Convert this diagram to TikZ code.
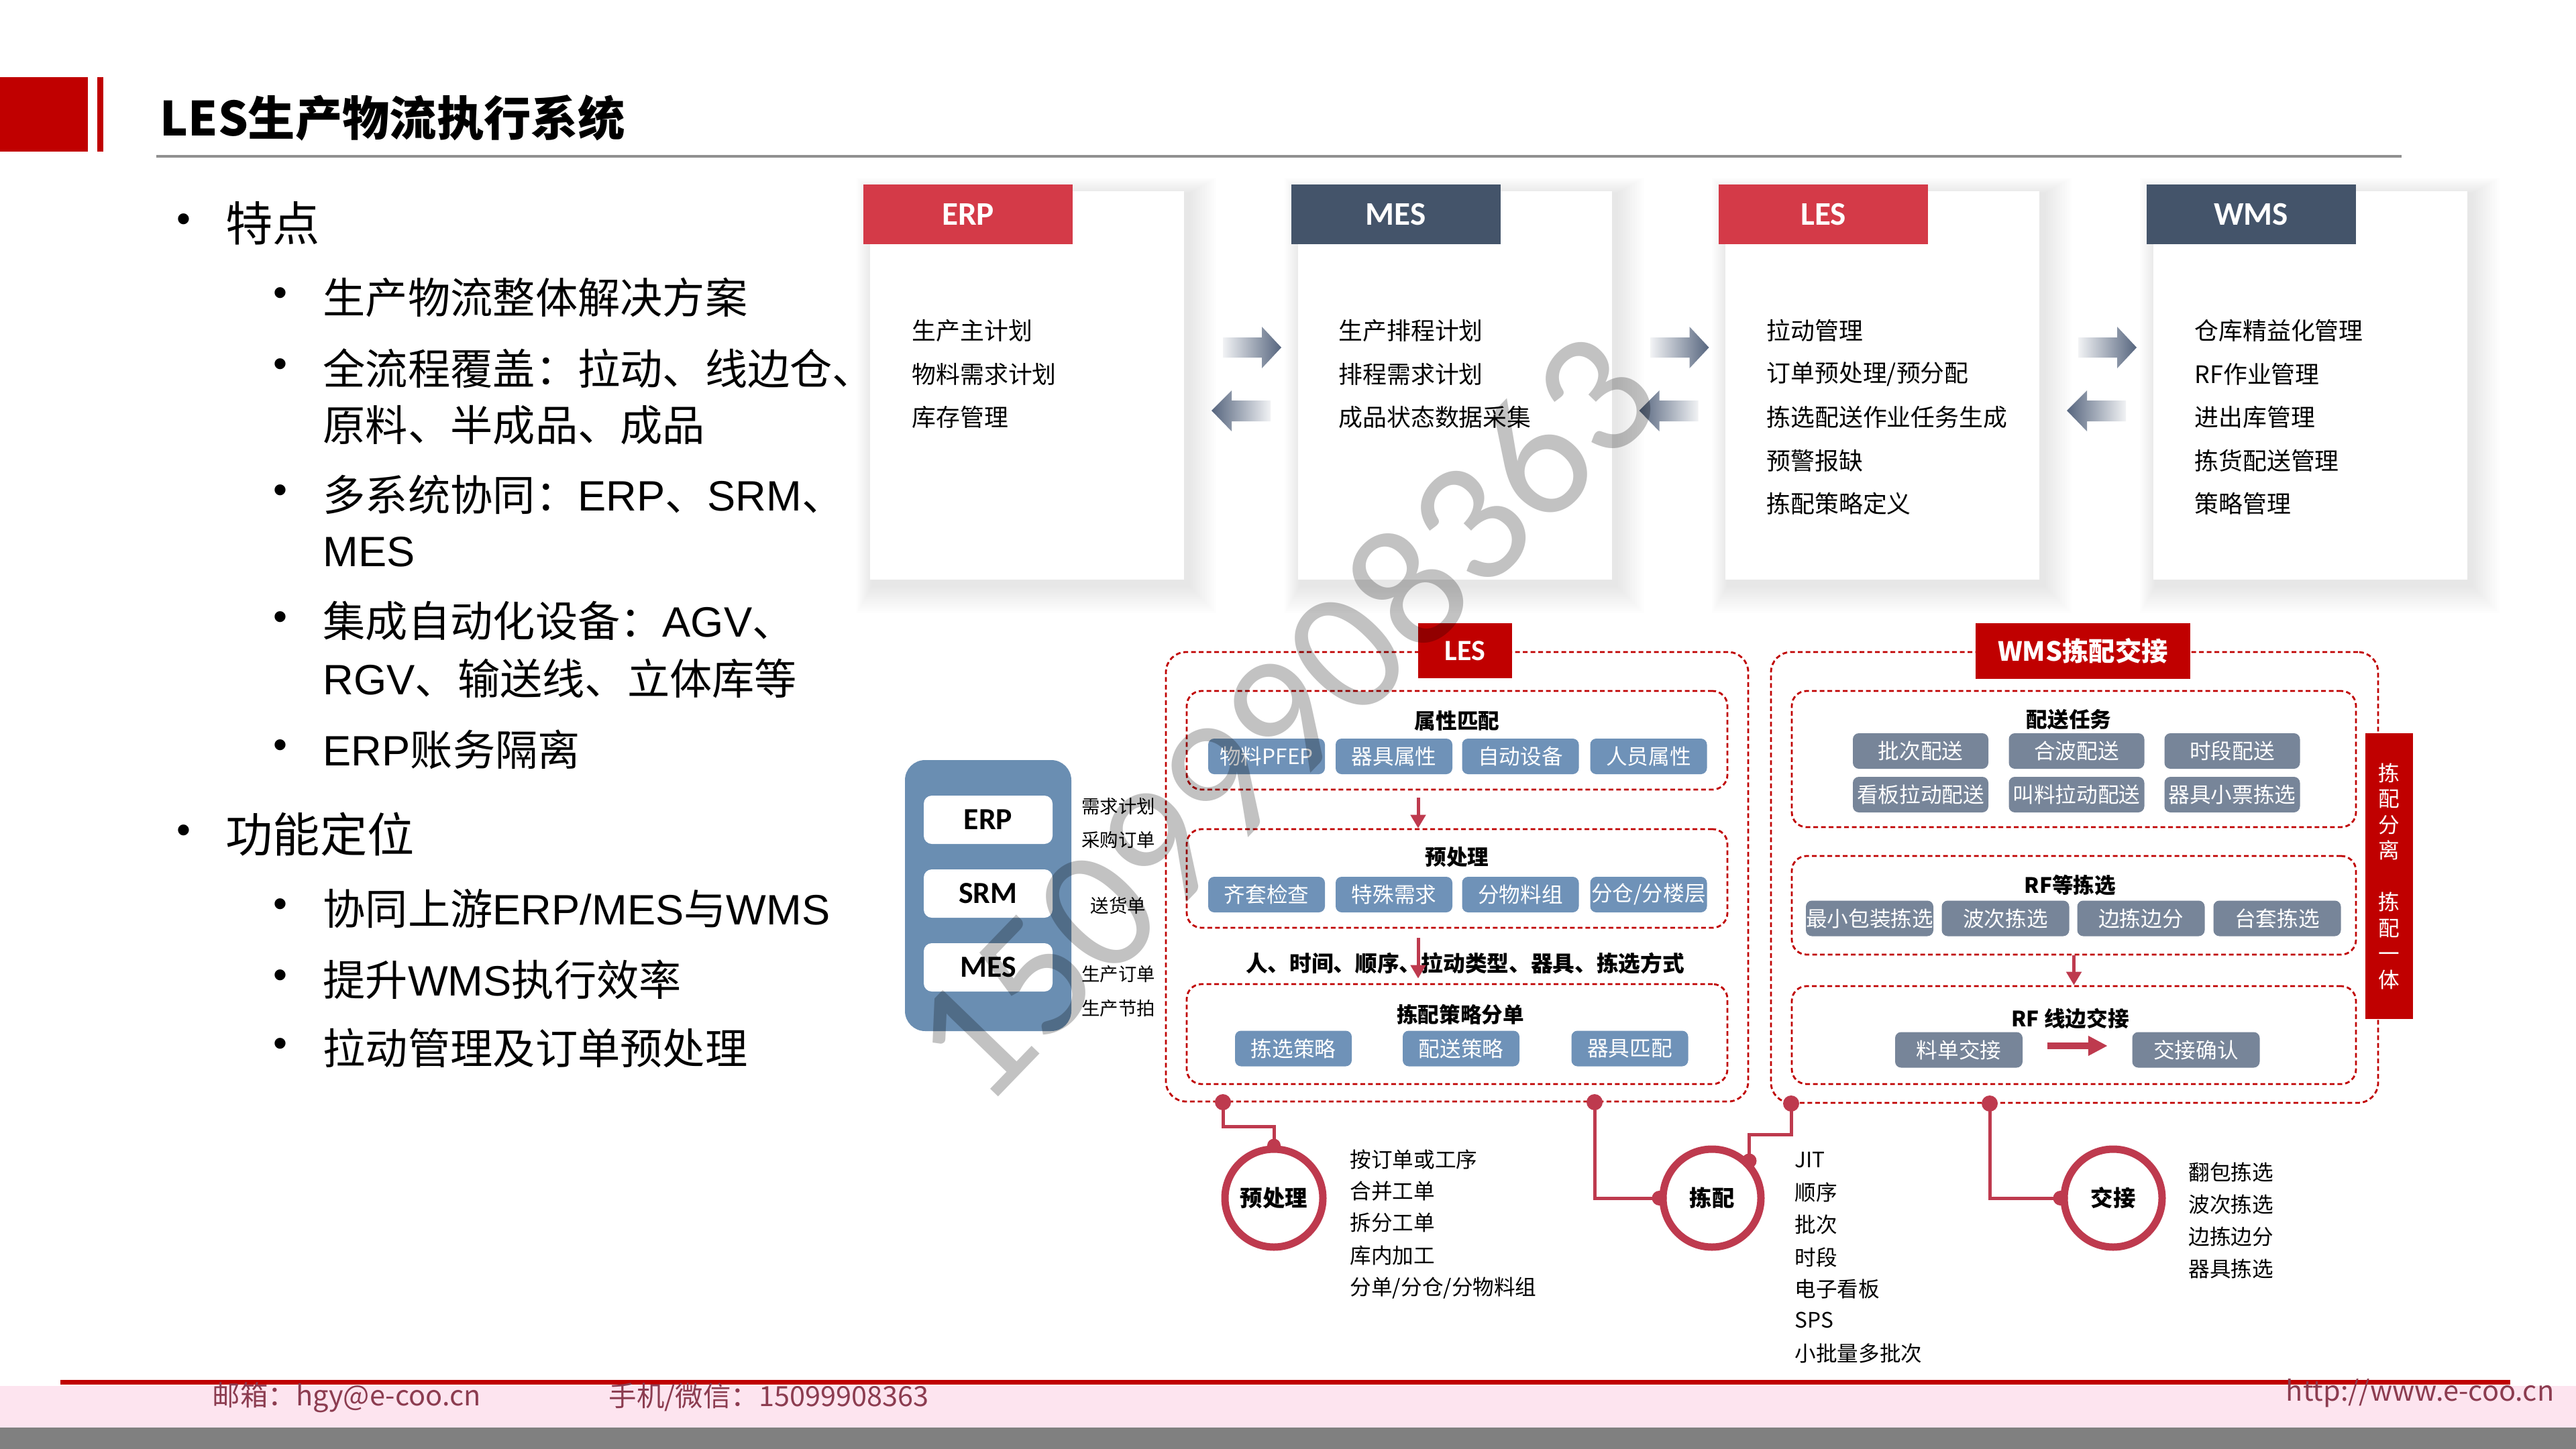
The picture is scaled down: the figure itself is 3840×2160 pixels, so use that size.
\documentclass[tikz,border=0pt]{standalone}
\usepackage{fontspec}
\setmainfont{Noto Sans CJK SC}
\newfontfamily\arialf{Liberation Sans}
\newfontfamily\calf{Carlito}
\usetikzlibrary{arrows.meta}
\newcommand{\fsz}[1]{\fontsize{#1pt}{#1pt}\selectfont}
\definecolor{hdred}{HTML}{D43A48}
\definecolor{slate}{HTML}{44546A}
\definecolor{darkred}{HTML}{C00000}
\definecolor{ring}{HTML}{BE3A4E}
\definecolor{panelblue}{HTML}{6A8EB2}
\definecolor{lespill}{HTML}{6F92B8}
\definecolor{wmspill}{HTML}{778599}
\definecolor{arrowdark}{HTML}{56657E}
\definecolor{pinkband}{HTML}{FDE4EF}
\definecolor{foottext}{HTML}{8C3C50}
\definecolor{titlegray}{HTML}{909090}
\definecolor{bandgray}{HTML}{808080}
\begin{document}
\begin{tikzpicture}[x=0.1mm,y=-0.1mm,
  cardtxt/.style={anchor=west, inner sep=0, font=\fsz{10.2}},
  hdrbox/.style={minimum width=31.2mm, minimum height=8.9mm, inner sep=0, text=white, font=\calf\bfseries\fsz{14}},
  dashbox/.style={draw=darkred, line width=0.28mm, dash pattern=on 0.7mm off 0.45mm, rounded corners=2.2mm, inner sep=0},
  outerbox/.style={dashbox, rounded corners=3mm},
  lpill/.style={fill=lespill, text=white, rounded corners=0.9mm, minimum width=17.4mm, minimum height=5.3mm, inner sep=0, font=\fsz{9}},
  wpill/.style={fill=wmspill, text=white, rounded corners=0.9mm, minimum width=20.2mm, minimum height=5.3mm, inner sep=0, font=\fsz{9}},
  boxtitle/.style={font=\bfseries\fsz{9}, inner sep=0},
  redarrow/.style={draw=ring, line width=0.5mm, -{Triangle[width=2.2mm,length=2mm]}},
  conn/.style={draw=ring, line width=0.5mm},
  ringc/.style={circle, draw=ring, line width=1.1mm, minimum size=14.6mm, inner sep=0, font=\bfseries\fsz{9.5}, fill=white},
  dotn/.style={circle, fill=ring, minimum size=2.4mm, inner sep=0},
  listtxt/.style={anchor=west, inner sep=0, font=\fsz{9}},
  sidetxt/.style={inner sep=0, font=\fsz{7.8}},
  bulA/.style={anchor=west, inner sep=0, font=\fsz{20}},
  bulB/.style={anchor=west, inner sep=0, font=\fsz{18}},
  bulmark/.style={inner sep=0, font=\arialf\fsz{17}},
  foot/.style={inner sep=0, text=foottext, font=\fsz{11.8}},
  wbox/.style={fill=white, rounded corners=1.2mm, minimum width=19.2mm, minimum height=7.2mm, inner sep=0, font=\calf\bfseries\fsz{13}}
]
\useasboundingbox (0,0) rectangle (3840,2160);
\fill[white] (0,0) rectangle (3840,2160);

% ---------- header ----------
\fill[darkred] (0,115) rectangle (131,226);
\fill[darkred] (145,115) rectangle (154,226);
\node[anchor=west, inner sep=0, font=\bfseries\fsz{20}] (title) at (238,176) {LES生产物流执行系统};
\draw[titlegray, line width=0.4mm] (233,233) -- (3580,233);

% ---------- left bullets ----------
\node[bulmark] (bm1) at (274,333) {•};
\node[bulA] (b1) at (336,333) {特点};
\node[bulmark] (bs1) at (418,443) {•};
\node[bulB] (t1) at (481,443) {生产物流整体解决方案};
\node[bulmark] (bs2) at (418,549) {•};
\node[bulB] (t2) at (481,549) {全流程覆盖：拉动、线边仓、};
\node[bulB] (t2b) at (481,634) {原料、半成品、成品};
\node[bulmark] (bs3) at (418,737) {•};
\node[bulB] (t3) at (481,737) {多系统协同：{\arialf ERP}、{\arialf SRM}、};
\node[bulB] (t3b) at (481,823) {\arialf MES};
\node[bulmark] (bs4) at (418,926) {•};
\node[bulB] (t4) at (481,926) {集成自动化设备：{\arialf AGV}、};
\node[bulB] (t4b) at (481,1011) {{\arialf RGV}、输送线、立体库等};
\node[bulmark] (bs5) at (418,1117) {•};
\node[bulB] (t5) at (481,1117) {{\arialf ERP}账务隔离};
\node[bulmark] (bm2) at (274,1244) {•};
\node[bulA] (b2) at (336,1244) {功能定位};
\node[bulmark] (bs6) at (418,1354) {•};
\node[bulB] (t6) at (481,1354) {协同上游{\arialf ERP/MES}与{\arialf WMS}};
\node[bulmark] (bs7) at (418,1460) {•};
\node[bulB] (t7) at (481,1460) {提升{\arialf WMS}执行效率};
\node[bulmark] (bs8) at (418,1562) {•};
\node[bulB] (t8) at (481,1562) {拉动管理及订单预处理};

% ---------- top cards ----------
\foreach \k/\nm/\col in {0/ERP/hdred,1/MES/slate,2/LES/hdred,3/WMS/slate}{
  \foreach \i in {1,...,12}{
    \fill[black,opacity=0.008] ({1297+637.5*\k-\i*2+4},{285-\i*2+4}) rectangle ({1765+637.5*\k+\i*3.5+6},{864+\i*3.5+8});
  }
  \fill[white] ({1297+637.5*\k},285) rectangle ({1765+637.5*\k},864);
  \node[hdrbox, fill=\col] (hdr\k) at ({1443+637.5*\k},319.5) {\nm};
}
\node[cardtxt] (e1) at (1359,493) {生产主计划};
\node[cardtxt] (e2) at (1359,557.5) {物料需求计划};
\node[cardtxt] (e3) at (1359,622) {库存管理};
\node[cardtxt] (m1) at (1995,493) {生产排程计划};
\node[cardtxt] (m2) at (1995,557.5) {排程需求计划};
\node[cardtxt] (m3) at (1995,622) {成品状态数据采集};
\node[cardtxt] (l1) at (2633,493) {拉动管理};
\node[cardtxt] (l2) at (2633,557.5) {订单预处理/预分配};
\node[cardtxt] (l3) at (2633,622) {拣选配送作业任务生成};
\node[cardtxt] (l4) at (2633,686.5) {预警报缺};
\node[cardtxt] (l5) at (2633,751) {拣配策略定义};
\node[cardtxt] (w1) at (3271,493) {仓库精益化管理};
\node[cardtxt] (w2) at (3271,557.5) {RF作业管理};
\node[cardtxt] (w3) at (3271,622) {进出库管理};
\node[cardtxt] (w4) at (3271,686.5) {拣货配送管理};
\node[cardtxt] (w5) at (3271,751) {策略管理};

% gradient arrows between cards
\foreach \k in {0,1,2}{
  \shade[left color=arrowdark!8, right color=arrowdark]
    ({1823+637.5*\k},503) -- ({1881+637.5*\k},503) -- ({1881+637.5*\k},487) -- ({1910+637.5*\k},518)
    -- ({1881+637.5*\k},549) -- ({1881+637.5*\k},533) -- ({1823+637.5*\k},533) -- cycle;
  \shade[left color=arrowdark, right color=arrowdark!8]
    ({1894+637.5*\k},597) -- ({1836+637.5*\k},597) -- ({1836+637.5*\k},582) -- ({1806+637.5*\k},612)
    -- ({1836+637.5*\k},643) -- ({1836+637.5*\k},628) -- ({1894+637.5*\k},628) -- cycle;
}

% ---------- left source panel ----------
\node[fill=panelblue, rounded corners=3mm, minimum width=24.8mm, minimum height=40.4mm, inner sep=0] (panel) at (1473,1335) {};
\node[wbox] (perp) at (1473,1222) {ERP};
\node[wbox] (psrm) at (1473,1332) {SRM};
\node[wbox] (pmes) at (1473,1442) {MES};
\node[sidetxt] (s1) at (1667,1202) {需求计划};
\node[sidetxt] (s2) at (1667,1252) {采购订单};
\node[sidetxt] (s3) at (1667,1350) {送货单};
\node[sidetxt] (s4) at (1667,1452) {生产订单};
\node[sidetxt] (s5) at (1667,1503) {生产节拍};

% ---------- LES block ----------
\node[outerbox, minimum width=86.8mm, minimum height=67mm] (lesbox) at (2172,1307) {};
\node[dashbox, minimum width=80.6mm, minimum height=14.7mm] (l1box) at (2172,1103.5) {};
\node[dashbox, minimum width=80.6mm, minimum height=14.7mm] (l2box) at (2172,1309.5) {};
\node[dashbox, minimum width=80.6mm, minimum height=14.9mm] (l3box) at (2172,1541.5) {};
\node[fill=darkred, text=white, minimum width=14mm, minimum height=8.2mm, inner sep=0, font=\calf\bfseries\fsz{12.5}] (leslabel) at (2184,970) {LES};

\node[boxtitle] (lt1) at (2172,1074) {属性匹配};
\node[lpill] (lp11) at (1888,1127.5) {物料PFEP};
\node[lpill] (lp12) at (2078,1127.5) {器具属性};
\node[lpill] (lp13) at (2266.5,1127.5) {自动设备};
\node[lpill] (lp14) at (2457.5,1127.5) {人员属性};

\node[boxtitle] (lt2) at (2172,1278) {预处理};
\node[lpill] (lp21) at (1888,1333.5) {齐套检查};
\node[lpill] (lp22) at (2078,1333.5) {特殊需求};
\node[lpill] (lp23) at (2266.5,1333.5) {分物料组};
\node[lpill] (lp24) at (2457.5,1333.5) {分仓/分楼层};

\node[boxtitle, font=\bfseries\fsz{9.3}] (lmid) at (2184,1436) {人、时间、顺序、拉动类型、器具、拣选方式};

\node[boxtitle] (lt3) at (2177,1512) {拣配策略分单};
\node[lpill] (lp31) at (1928,1563) {拣选策略};
\node[lpill] (lp32) at (2178,1563) {配送策略};
\node[lpill] (lp33) at (2429.5,1563) {器具匹配};

\draw[redarrow] ([xshift=-5.8mm,yshift=-1.1mm]l1box.south) -- ([xshift=-5.8mm]l2box.north);
\draw[redarrow] ([xshift=-5.8mm,yshift=-1.4mm]l2box.south) -- ([xshift=-5.8mm,yshift=0.7mm]l3box.north);

% ---------- WMS block ----------
\node[outerbox, minimum width=90.5mm, minimum height=67.2mm] (wmsbox) at (3092.5,1308) {};
\node[dashbox, minimum width=84.1mm, minimum height=20.3mm] (w1box) at (3091.5,1131.5) {};
\node[dashbox, minimum width=84.1mm, minimum height=14.7mm] (w2box) at (3091.5,1349.5) {};
\node[dashbox, minimum width=84.1mm, minimum height=14.6mm] (w3box) at (3091.5,1543) {};
\node[fill=darkred, text=white, minimum width=32mm, minimum height=8.3mm, inner sep=0, font=\bfseries\fsz{11.2}] (wmslabel) at (3105,970) {WMS拣配交接};

\node[boxtitle] (wt1) at (3084,1073) {配送任务};
\node[wpill] (wp11) at (2863,1119.5) {批次配送};
\node[wpill] (wp12) at (3095.5,1119.5) {合波配送};
\node[wpill] (wp13) at (3327.5,1119.5) {时段配送};
\node[wpill] (wp21) at (2863,1184.5) {看板拉动配送};
\node[wpill] (wp22) at (3095.5,1184.5) {叫料拉动配送};
\node[wpill] (wp23) at (3327.5,1184.5) {器具小票拣选};

\node[boxtitle] (wt2) at (3086,1320) {RF等拣选};
\node[wpill, minimum width=19mm] (rp1) at (2787,1369) {最小包装拣选};
\node[wpill, minimum width=19mm] (rp2) at (2989.5,1369) {波次拣选};
\node[wpill, minimum width=19mm] (rp3) at (3191.5,1369) {边拣边分};
\node[wpill, minimum width=19mm] (rp4) at (3394.5,1369) {台套拣选};

\node[boxtitle] (wt3) at (3086,1518) {RF 线边交接};
\node[wpill, minimum width=19mm] (xp1) at (2920,1565) {料单交接};
\node[wpill, minimum width=19mm] (xp2) at (3273.5,1565) {交接确认};
\draw[ring, line width=1mm, -{Triangle[width=2.8mm,length=2.9mm]}] ([xshift=3.6mm,yshift=0.6mm]xp1.east) -- ([xshift=-3.6mm,yshift=0.6mm]xp2.west);

\draw[redarrow] (w2box.south) -- (w3box.north);

\node[fill=darkred, text=white, minimum width=7.1mm, minimum height=42.6mm, inner sep=0, align=center,
      font=\fontsize{9pt}{10.95pt}\selectfont] (sidebar) at (3561.5,1306) {拣\\配\\分\\离\\\mbox{}\\拣\\配\\一\\体};

% ---------- bottom circles ----------
\node[dotn] (d1) at (1823,1643) {};
\node[dotn] (d2) at (2377,1643) {};
\node[dotn] (d3) at (2670,1645) {};
\node[dotn] (d4) at (2966,1645) {};

\node[ringc] (c1) at (1899,1786) {预处理};
\node[ringc] (c2) at (2552,1786) {拣配};
\node[ringc] (c3) at (3150,1786) {交接};

\draw[conn] (d1.center) -- ++(0,36) -| (c1.north);
\draw[conn] (d2.center) |- (c2.west);
\draw[conn] (d3.center) -- ++(0,46) -| (c2.45);
\draw[conn] (d4.center) |- (c3.west);
\node[dotn, minimum size=2mm] (j1) at (c1.north) {};
\node[dotn, minimum size=2.2mm] (j2) at (c2.west) {};
\node[dotn, minimum size=2.2mm] (j3) at (c2.45) {};
\node[dotn, minimum size=2.2mm] (j4) at (c3.west) {};

\node[listtxt] (a1) at (2012,1728) {按订单或工序};
\node[listtxt] (a2) at (2012,1776) {合并工单};
\node[listtxt] (a3) at (2012,1823) {拆分工单};
\node[listtxt] (a4) at (2012,1872) {库内加工};
\node[listtxt] (a5) at (2012,1920) {分单/分仓/分物料组};

\node[listtxt] (b01) at (2675,1729) {JIT};
\node[listtxt] (b02) at (2675,1777) {顺序};
\node[listtxt] (b03) at (2675,1826) {批次};
\node[listtxt] (b04) at (2675,1874) {时段};
\node[listtxt] (b05) at (2675,1921) {电子看板};
\node[listtxt] (b06) at (2675,1968) {SPS};
\node[listtxt] (b07) at (2675,2017) {小批量多批次};

\node[listtxt] (x1) at (3262,1747) {翻包拣选};
\node[listtxt] (x2) at (3262,1795) {波次拣选};
\node[listtxt] (x3) at (3262,1843) {边拣边分};
\node[listtxt] (x4) at (3262,1891) {器具拣选};

% ---------- footer ----------
\fill[pinkband] (0,2066) rectangle (3840,2128);
\fill[bandgray] (0,2128) rectangle (3840,2160);
\fill[darkred] (90,2057) rectangle (3742,2064);
\node[foot, anchor=west] (f1) at (316,2083) {邮箱：hgy@e-coo.cn};
\node[foot, anchor=west] (f2) at (907,2083) {手机/微信：15099908363};
\node[foot, anchor=east] (f3) at (3808,2077) {http://www.e-coo.cn};

% ---------- watermark ----------
\node[rotate=46, inner sep=0, text=black, text opacity=0.24, font=\calf\fsz{75}] (wm) at (1912,1068) {15099908363};
\end{tikzpicture}
\end{document}
